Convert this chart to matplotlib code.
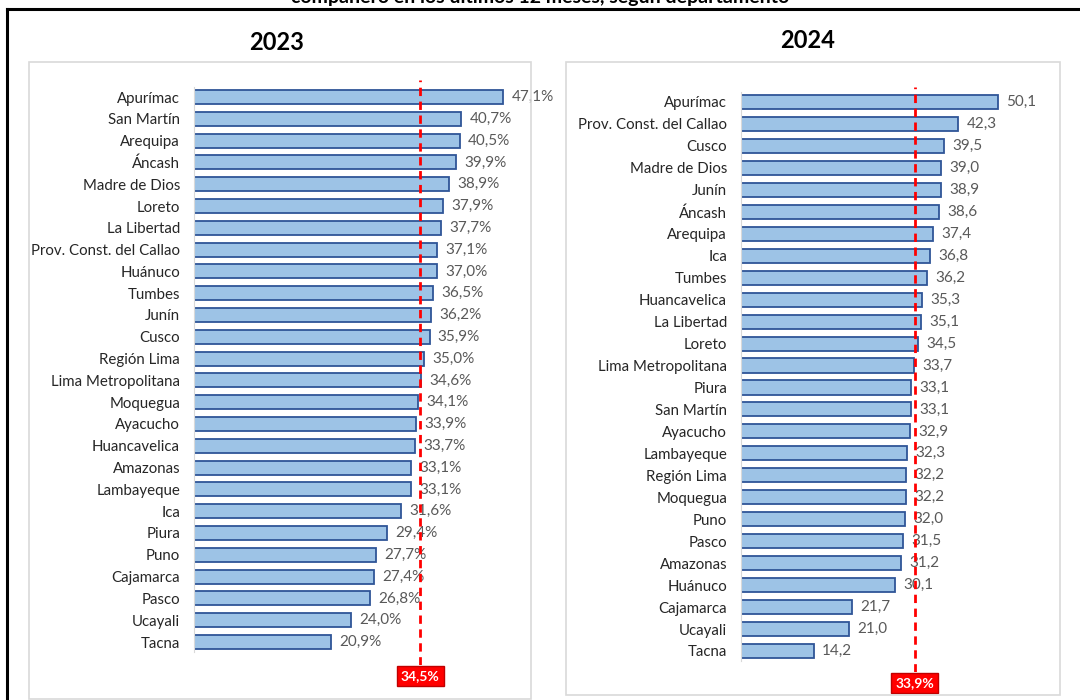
import matplotlib.pyplot as plt
from matplotlib.patches import Rectangle
from matplotlib.lines import Line2D

plt.rcParams['font.family'] = ['Lato', 'DejaVu Sans']

# data
deps_2023 = ['Apurímac', 'San Martín', 'Arequipa', 'Áncash', 'Madre de Dios', 'Loreto',
             'La Libertad', 'Prov. Const. del Callao', 'Huánuco', 'Tumbes', 'Junín', 'Cusco',
             'Región Lima', 'Lima Metropolitana', 'Moquegua', 'Ayacucho', 'Huancavelica',
             'Amazonas', 'Lambayeque', 'Ica', 'Piura', 'Puno', 'Cajamarca', 'Pasco',
             'Ucayali', 'Tacna']
vals_2023 = [47.1, 40.7, 40.5, 39.9, 38.9, 37.9, 37.7, 37.1, 37.0, 36.5, 36.2, 35.9,
             35.0, 34.6, 34.1, 33.9, 33.7, 33.1, 33.1, 31.6, 29.4, 27.7, 27.4, 26.8,
             24.0, 20.9]
avg_2023 = 34.5

deps_2024 = ['Apurímac', 'Prov. Const. del Callao', 'Cusco', 'Madre de Dios', 'Junín',
             'Áncash', 'Arequipa', 'Ica', 'Tumbes', 'Huancavelica', 'La Libertad', 'Loreto',
             'Lima Metropolitana', 'Piura', 'San Martín', 'Ayacucho', 'Lambayeque',
             'Región Lima', 'Moquegua', 'Puno', 'Pasco', 'Amazonas', 'Huánuco', 'Cajamarca',
             'Ucayali', 'Tacna']
vals_2024 = [50.1, 42.3, 39.5, 39.0, 38.9, 38.6, 37.4, 36.8, 36.2, 35.3, 35.1, 34.5,
             33.7, 33.1, 33.1, 32.9, 32.3, 32.2, 32.2, 32.0, 31.5, 31.2, 30.1, 21.7,
             21.0, 14.2]
avg_2024 = 33.9

W, H = 1080, 700
fig = plt.figure(figsize=(W / 100, H / 100), dpi=100)


def px_box(x0, y0, x1, y1):
    # pixel box (top-left origin) -> figure fraction rect
    return [x0 / W, 1 - y1 / H, (x1 - x0) / W, (y1 - y0) / H]


# outer black frame (runs off the right and bottom)
fig.add_artist(Line2D([7 / W, 7 / W], [1 - 9 / H, -0.01], color='black', lw=2.2))
fig.add_artist(Line2D([7 / W, 1.01], [1 - 9 / H, 1 - 9 / H], color='black', lw=2.2))

# title, cut off at the top as in the source
fig.text(0.5, 1 + 3 / H, 'compañero en los últimos 12 meses, según departamento',
         ha='center', va='center', fontsize=14, fontweight='bold', color='black')

# panel frames
for x0, y0, x1, y1 in [(29, 62, 531, 699), (566, 62, 1060, 695)]:
    r = Rectangle((x0 / W, 1 - y1 / H), (x1 - x0) / W, (y1 - y0) / H,
                  transform=fig.transFigure, facecolor='none', edgecolor='#d9d9d9', lw=1.2)
    fig.add_artist(r)

fig.text(277 / W, 1 - 43 / H, '2023', ha='center', va='center', fontsize=17, fontweight='bold')
fig.text(808 / W, 1 - 41 / H, '2024', ha='center', va='center', fontsize=17, fontweight='bold')


def draw_panel(rect, deps, vals, avg, xmax, top_i, bot_i, suffix):
    ax = fig.add_axes(rect)
    n = len(deps)
    ys = list(range(n))
    ax.barh(ys, vals, height=0.64, color='#9dc3e6', edgecolor='#2f5597', lw=1.3)
    ax.set_xlim(0, xmax)
    ax.set_ylim(bot_i, top_i)
    ax.set_yticks(ys)
    ax.set_yticklabels(deps, fontsize=10.8, color='#262626')
    ax.tick_params(axis='y', length=0, pad=10)
    ax.set_xticks([])
    for s in ['top', 'right', 'bottom']:
        ax.spines[s].set_visible(False)
    ax.spines['left'].set_color('#d9d9d9')
    ax.spines['left'].set_bounds(-0.45, n - 0.55)
    ax.patch.set_alpha(0)
    for y, v in zip(ys, vals):
        txt = f'{v:.1f}'.replace('.', ',') + suffix
        ax.annotate(txt, xy=(v, y), xytext=(6, 0), textcoords='offset points',
                    ha='left', va='center', fontsize=11, color='#595959')
    ax.axvline(avg, color='#ff0000', lw=2, ls=(0, (3, 2)), zorder=5)
    ax.annotate(f'{avg:.1f}%'.replace('.', ','), xy=(avg, 0), xycoords=('data', 'axes fraction'),
                xytext=(0, -8), textcoords='offset points', ha='center', va='center',
                fontsize=10, fontweight='bold', color='white',
                bbox=dict(boxstyle='square,pad=0.3', facecolor='#ff0000', edgecolor='#c00000', lw=1))
    return ax


# 2023: bars start at x=194 px, 6.56 px per unit, rows at 97 + 21.8*i
draw_panel(px_box(194, 80, 194 + 6.56 * 50, 665), deps_2023, vals_2023, avg_2023,
           50, -17 / 21.8, (665 - 97) / 21.8, '%')
# 2024: bars start at x=741 px, 5.13 px per unit, rows at 102 + 21.96*i
draw_panel(px_box(741, 87, 741 + 5.13 * 60, 672), deps_2024, vals_2024, avg_2024,
           60, -15 / 21.96, (672 - 102) / 21.96, '')

fig.savefig('out.png', dpi=100)
